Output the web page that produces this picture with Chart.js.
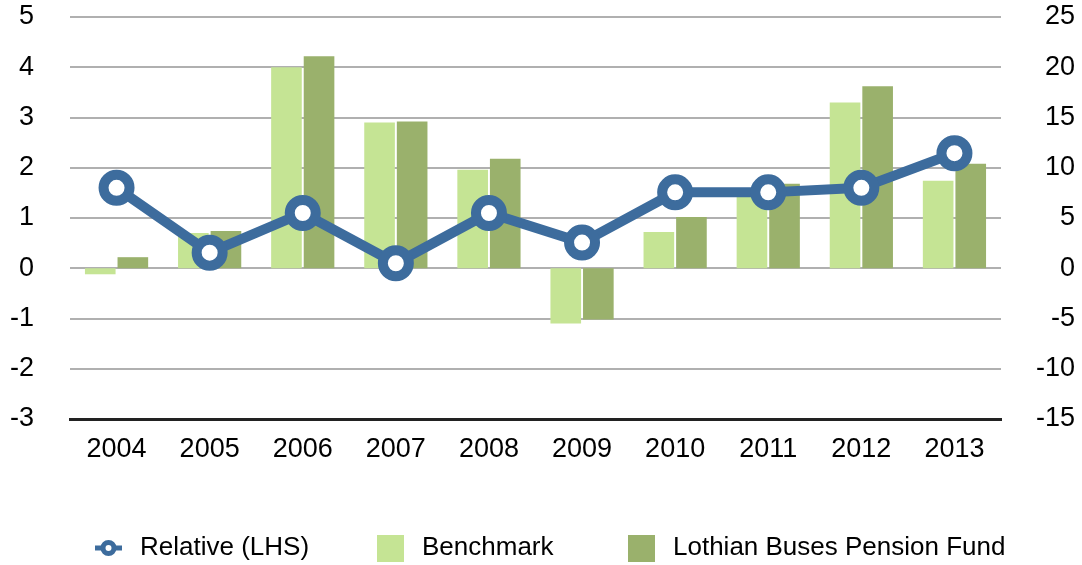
<!DOCTYPE html>
<html lang="en">
  <head>
    <meta charset="UTF-8" />
    <title>Relative performance</title>
    <script src="https://cdn.jsdelivr.net/npm/chart.js"></script>
    <style>
      body {
        margin: 0;
        background: #fff;
      }
      .wrap {
        width: 1082px;
        height: 565px;
      }
    </style>
  </head>
  <body>
    <div class="wrap"><canvas id="perfChart"></canvas></div>

    <script>
      // data
      const years = ["2004", "2005", "2006", "2007", "2008", "2009", "2010", "2011", "2012", "2013"];
      const relative = [1.6, 0.31, 1.1, 0.1, 1.1, 0.51, 1.51, 1.51, 1.6, 2.29];   // LHS
      const benchmark = [-0.6, 3.5, 20.0, 14.5, 9.8, -5.5, 3.6, 7.1, 16.5, 8.7]; // RHS
      const fund = [1.1, 3.7, 21.1, 14.6, 10.9, -5.1, 5.1, 8.4, 18.1, 10.4];     // RHS

      const blue = "#3d6c9d";
      const lightGreen = "#c5e494";
      const darkGreen = "#9ab16c";
      const fontFamily = "'Liberation Sans', Arial, Helvetica, sans-serif";

      Chart.defaults.font.family = fontFamily;
      Chart.defaults.font.size = 27;
      Chart.defaults.color = "#000";

      // legend drawn below the plot, icon x positions
      const legendX = [95, 377, 628];
      const legendY = 548;

      const legendPlugin = {
        id: "bottomLegend",
        afterDraw(chart) {
          const c = chart.ctx;
          c.save();
          c.font = "26px " + fontFamily;
          c.textBaseline = "middle";
          chart.data.datasets.forEach((ds, i) => {
            const x = legendX[i];
            if (ds.type === "line") {
              c.strokeStyle = ds.borderColor;
              c.lineWidth = 5;
              c.beginPath();
              c.moveTo(x, legendY);
              c.lineTo(x + 27, legendY);
              c.stroke();
              c.beginPath();
              c.arc(x + 13.5, legendY, 5.5, 0, Math.PI * 2);
              c.fillStyle = "#fff";
              c.fill();
              c.stroke();
            } else {
              c.fillStyle = ds.backgroundColor;
              c.fillRect(x, legendY - 13, 27, 27);
            }
            c.fillStyle = "#000";
            c.fillText(ds.label, x + 45, legendY);
          });
          c.restore();
        },
      };

      // fixed axis boxes so the plot sits where the original does
      const fixWidth = (w) => (scale) => {
        scale.width = w;
        scale.paddingTop = 0;
        scale.paddingBottom = 0;
      };

      const ctx = document.getElementById("perfChart").getContext("2d");
      new Chart(ctx, {
        type: "bar",
        data: {
          labels: years,
          datasets: [
            {
              type: "line",
              label: "Relative (LHS)",
              data: relative,
              yAxisID: "y",
              order: 0,
              borderColor: blue,
              borderWidth: 10,
              pointRadius: 13,
              pointBorderWidth: 10,
              pointBackgroundColor: "#fff",
              pointBorderColor: blue,
              tension: 0,
            },
            {
              label: "Benchmark",
              data: benchmark,
              yAxisID: "y1",
              order: 1,
              backgroundColor: lightGreen,
              categoryPercentage: 0.7,
              barPercentage: 0.94,
            },
            {
              label: "Lothian Buses Pension Fund",
              data: fund,
              yAxisID: "y1",
              order: 1,
              backgroundColor: darkGreen,
              categoryPercentage: 0.7,
              barPercentage: 0.94,
            },
          ],
        },
        options: {
          responsive: true,
          maintainAspectRatio: false,
          animation: false,
          layout: {
            autoPadding: false,
            padding: { top: 17, left: 0, right: 7, bottom: 0 },
          },
          plugins: {
            legend: { display: false },
            tooltip: { enabled: false },
          },
          scales: {
            x: {
              grid: { display: false, drawTicks: false },
              border: { display: true, color: "#222", width: 3 },
              ticks: { padding: 14, maxRotation: 0 },
              afterFit: (scale) => {
                scale.height = 146;
              },
            },
            y: {
              position: "left",
              min: -3,
              max: 5,
              ticks: { stepSize: 1, padding: 36 },
              grid: { color: "#b0b0b0", lineWidth: 2, drawTicks: false },
              border: { display: false },
              afterFit: fixWidth(70),
            },
            y1: {
              position: "right",
              min: -15,
              max: 25,
              ticks: { stepSize: 5, padding: 36, crossAlign: "far" },
              grid: { display: false, drawTicks: false },
              border: { display: false },
              afterFit: fixWidth(74),
            },
          },
        },
        plugins: [legendPlugin],
      });
    </script>
  </body>
</html>
